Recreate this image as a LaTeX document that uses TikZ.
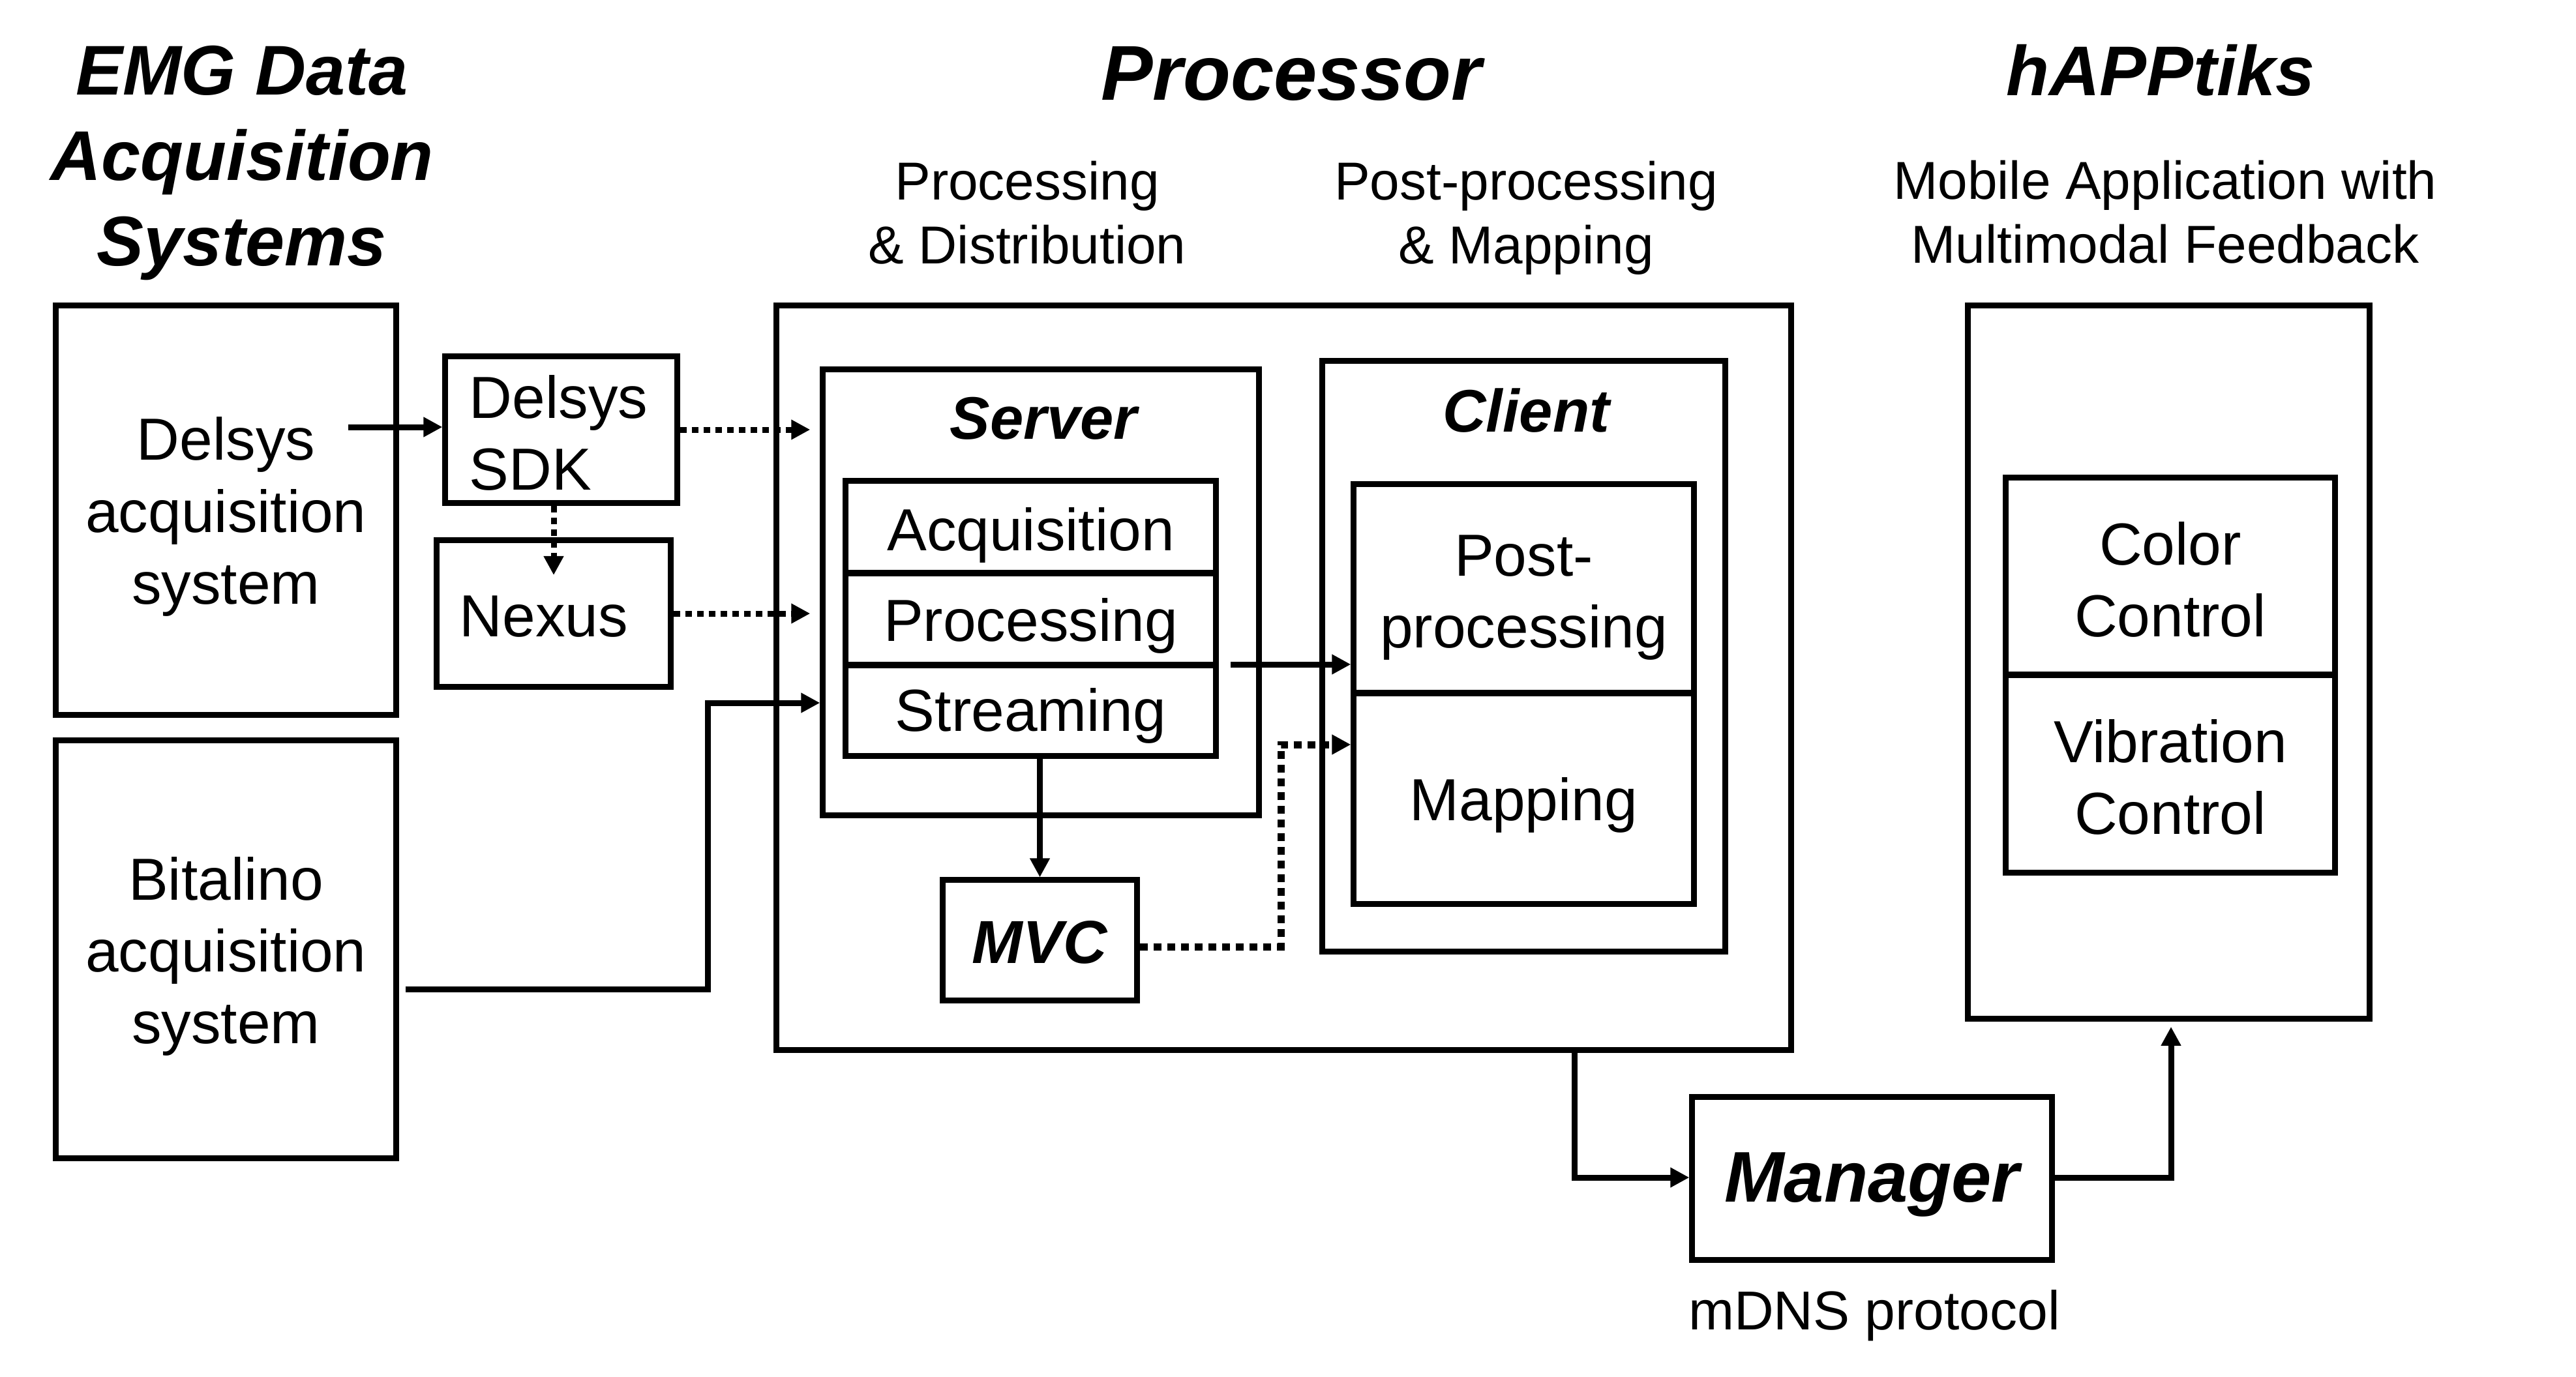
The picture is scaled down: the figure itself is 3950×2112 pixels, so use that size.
\documentclass[tikz,border=0pt]{standalone}
\usepackage{fontspec}
\setmainfont{Liberation Sans}
\usetikzlibrary{arrows.meta}
\begin{document}
\begin{tikzpicture}[x=0.01cm,y=-0.01cm,
  box/.style={draw, line width=0.09cm, inner sep=0pt},
  boxtext/.style={inner sep=0pt, align=center,
    font=\fontsize{25.9pt}{31.3pt}\selectfont},
  bigtitle/.style={inner sep=0pt, align=center,
    font=\fontsize{30.7pt}{37.3pt}\selectfont\bfseries\itshape},
  subtitle/.style={inner sep=0pt, align=center,
    font=\fontsize{23.3pt}{27.9pt}\selectfont},
  label/.style={inner sep=0pt, font=\fontsize{26.2pt}{31pt}\selectfont\bfseries\itshape},
  conn/.style={line width=0.09cm, -{Triangle[length=0.29cm,width=0.29cm]}},
  dotconn/.style={conn, dash pattern=on 0.1cm off 0.08cm},
  dotconnb/.style={conn, line width=0.11cm, dash pattern=on 0.12cm off 0.09cm},
]
\fill[white] (0,0) rectangle (3950,2112);
\useasboundingbox (0,0) rectangle (3950,2112);

% titles
\node[bigtitle] (emgtitle) at (371,250) {EMG Data\\Acquisition\\Systems};
\node[bigtitle, font=\fontsize{33.9pt}{40pt}\selectfont\bfseries\itshape] (proctitle) at (1980,113) {Processor};
\node[bigtitle] (apptitle) at (3313,108) {hAPPtiks};
\node[subtitle] (sub1) at (1575,326) {Processing\\\& Distribution};
\node[subtitle] (sub2) at (2340,334) {Post-processing\\\& Mapping};
\node[subtitle] (sub3) at (3320,325) {Mobile Application with\\Multimodal Feedback};

% left column
\node[box, minimum width=5.21cm, minimum height=6.27cm] (delsys) at (346.5,782.5) {};
\node[boxtext] (delsystext) at ([yshift=-0.1cm]delsys.center) {Delsys\\acquisition\\system};
\node[box, minimum width=5.21cm, minimum height=6.40cm] (bitalino) at (346.5,1456) {};
\node[boxtext] (bitalinotext) at ([yshift=-0.11cm]bitalino.center) {Bitalino\\acquisition\\system};
\node[box, minimum width=3.55cm, minimum height=2.24cm] (sdk) at (860.5,659) {};
\node[boxtext, align=left] (sdktext) at ([xshift=-0.04cm,yshift=-0.05cm]sdk.center) {Delsys\\SDK};
\node[box, minimum width=3.58cm, minimum height=2.24cm] (nexus) at (849,941) {};
\node[boxtext] (nexustext) at ([xshift=-0.15cm,yshift=-0.05cm]nexus.center) {Nexus};

% processor
\node[box, minimum width=15.55cm, minimum height=11.41cm] (processor) at (1968.5,1039.5) {};
\node[box, minimum width=6.68cm, minimum height=6.83cm] (server) at (1596,908.5) {};
\node[label] (serverlabel) at (1600,642) {Server};
\node[box, minimum width=5.67cm, minimum height=1.41cm] (acq) at (1580.5,808.5) {};
\node[boxtext] (acqtext) at ([yshift=-0.12cm]acq.center) {Acquisition};
\node[box, minimum width=5.67cm, minimum height=1.41cm] (proc) at (1580.5,949.5) {};
\node[boxtext] (proctext) at ([yshift=-0.1cm]proc.center) {Processing};
\node[box, minimum width=5.67cm, minimum height=1.39cm] (stream) at (1580.5,1089.5) {};
\node[boxtext] (streamtext) at ([yshift=-0.08cm]stream.center) {Streaming};
\node[box, minimum width=2.97cm, minimum height=1.84cm] (mvc) at (1594.5,1442) {};
\node[label, font=\fontsize{26.5pt}{31pt}\selectfont\bfseries\itshape] (mvctext) at ([yshift=-0.03cm]mvc.center) {MVC};
\node[box, minimum width=6.17cm, minimum height=9.05cm] (client) at (2336.5,1006.5) {};
\node[label] (clientlabel) at (2340,630) {Client};
\node[box, minimum width=5.21cm, minimum height=3.20cm] (post) at (2336.5,903) {};
\node[boxtext] (posttext) at ([yshift=-0.14cm]post.center) {Post-\\processing};
\node[box, minimum width=5.21cm, minimum height=3.23cm] (mapping) at (2336.5,1224.5) {};
\node[boxtext] (mappingtext) at ([yshift=-0.1cm]mapping.center) {Mapping};

% app
\node[box, minimum width=6.15cm, minimum height=10.93cm] (happ) at (3325.5,1015.5) {};
\node[box, minimum width=5.04cm, minimum height=3.02cm] (color) at (3328,884) {};
\node[boxtext] (colortext) at ([yshift=-0.05cm]color.center) {Color\\Control};
\node[box, minimum width=5.04cm, minimum height=3.03cm] (vib) at (3328,1186.5) {};
\node[boxtext] (vibtext) at ([yshift=-0.05cm]vib.center) {Vibration\\Control};

% manager
\node[box, minimum width=5.51cm, minimum height=2.49cm] (manager) at (2870.5,1807.5) {};
\node[label, font=\fontsize{31.3pt}{37pt}\selectfont\bfseries\itshape] (managertext) at ([yshift=-0.1cm]manager.center) {Manager};
\node[subtitle, font=\fontsize{23.9pt}{28pt}\selectfont] (mdns) at (2874,2018) {mDNS protocol};

% connectors
\coordinate (d1) at (534,655);
\draw[conn] (d1) -- (d1 -| sdk.west);
\coordinate (n1) at (849,882);
\draw[dotconn] (sdk.south -| n1) -- (n1);
\draw[dotconn, shorten >=0.15cm] (sdk.east) -- (sdk.east -| server.west);
\draw[dotconn, shorten >=0.15cm] (nexus.east) -- (nexus.east -| server.west);
\coordinate (b1) at (1085,1517);
\coordinate (b2) at (1085,1078);
\draw[conn, shorten <=0.1cm] (b1 -| bitalino.east) -- (b1) -- (b2) -- (b2 -| server.west);
\coordinate (p1) at (1887,1019);
\draw[conn] (p1) -- (p1 -| post.west);
\draw[conn] (stream.south -| mvc.north) -- (mvc.north);
\coordinate (m1) at (1964,1452);
\coordinate (m2) at (1964,1142);
\draw[dotconnb] (m1 -| mvc.east) -- (m1) -- (m2) -- (m2 -| mapping.west);
\coordinate (pm) at (2414,1806);
\draw[conn] (processor.south -| pm) -- (pm) -- (pm -| manager.west);
\coordinate (mh) at (3329,1806);
\draw[conn, shorten >=0.08cm] (mh -| manager.east) -- (mh) -- (happ.south -| mh);
\end{tikzpicture}
\end{document}
